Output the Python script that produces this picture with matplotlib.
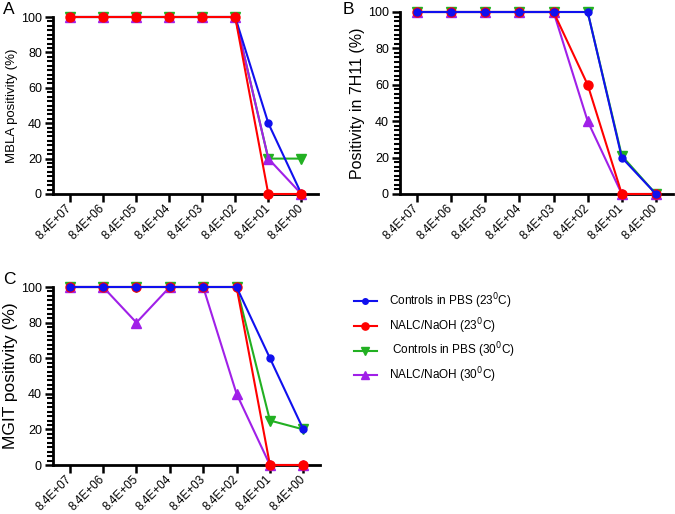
import matplotlib
matplotlib.use("Agg")
import matplotlib.pyplot as plt
from matplotlib.ticker import MultipleLocator
from matplotlib.lines import Line2D
import matplotlib.transforms as mtransforms

plt.rcParams['font.family'] = ['Liberation Sans', 'DejaVu Sans']

categories = ["8.4E+07", "8.4E+06", "8.4E+05", "8.4E+04", "8.4E+03", "8.4E+02", "8.4E+01", "8.4E+00"]

series_names = ["Controls in PBS (23$^{0}$C)", "NALC/NaOH (23$^{0}$C)",
                " Controls in PBS (30$^{0}$C)", "NALC/NaOH (30$^{0}$C)"]

# Panel A: MBLA
a_pbs23 = [100, 100, 100, 100, 100, 100, 40, 0]
a_nalc23 = [100, 100, 100, 100, 100, 100, 0, 0]
a_pbs30 = [100, 100, 100, 100, 100, 100, 20, 20]
a_nalc30 = [100, 100, 100, 100, 100, 100, 20, 0]

# Panel B: 7H11
b_pbs23 = [100, 100, 100, 100, 100, 100, 20, 0]
b_nalc23 = [100, 100, 100, 100, 100, 60, 0, 0]
b_pbs30 = [100, 100, 100, 100, 100, 100, 21, 0]
b_nalc30 = [100, 100, 100, 100, 100, 40, 0, 0]

# Panel C: MGIT
c_pbs23 = [100, 100, 100, 100, 100, 100, 60, 20]
c_nalc23 = [100, 100, 100, 100, 100, 100, 0, 0]
c_pbs30 = [100, 100, 100, 100, 100, 100, 25, 20]
c_nalc30 = [100, 100, 80, 100, 100, 40, 0, 0]

colors = {"pbs23": "#1010ee", "nalc23": "#ff0000", "pbs30": "#22b022", "nalc30": "#a020e8"}
styles = {"pbs23": dict(marker='o', ms=5), "nalc23": dict(marker='o', ms=6.5),
          "pbs30": dict(marker='v', ms=7), "nalc30": dict(marker='^', ms=6.5)}

fig = plt.figure(figsize=(6.75, 5.14), dpi=100)
W, H = 675, 514

def make_ax(l, r, t, b):
    return fig.add_axes([l / W, 1 - b / H, (r - l) / W, (b - t) / H])

axA = make_ax(53, 318, 17, 194)
axB = make_ax(400, 673, 12, 194)
axC = make_ax(53, 320, 287, 465)

def draw(ax, data, order, ylabel, ysize, letter, lx, ly):
    x = list(range(len(categories)))
    for key in order:
        ax.plot(x, data[key], color=colors[key], lw=1.5, clip_on=False,
                mec=colors[key], zorder=3, **styles[key])
    ax.set_xlim(-0.5, len(categories) - 0.5)
    ax.set_ylim(0, 100)
    ax.set_xticks(x)
    ax.set_xticklabels(categories, rotation=45, ha='right', va='center',
                       rotation_mode='anchor', fontsize=8.5)
    offset = mtransforms.ScaledTranslation(3 / 100, -4 / 100, fig.dpi_scale_trans)
    for lab in ax.get_xticklabels():
        lab.set_transform(lab.get_transform() + offset)
    ax.yaxis.set_major_locator(MultipleLocator(20))
    ax.yaxis.set_minor_locator(MultipleLocator(2.5))
    ax.tick_params(axis='y', which='major', length=6, width=1.8, labelsize=9, pad=2)
    ax.tick_params(axis='y', which='minor', length=4, width=1.5)
    ax.tick_params(axis='x', which='major', length=6, width=1.8, pad=3)
    ax.spines['top'].set_visible(False)
    ax.spines['right'].set_visible(False)
    ax.spines['left'].set_linewidth(2)
    ax.spines['bottom'].set_linewidth(2)
    ax.set_ylabel(ylabel, fontsize=ysize, labelpad=2)
    fig.text(lx / W, 1 - ly / H, letter, fontsize=12.5, ha='center', va='center')

draw(axA, {"pbs23": a_pbs23, "nalc23": a_nalc23, "pbs30": a_pbs30, "nalc30": a_nalc30},
     ["pbs30", "nalc30", "pbs23", "nalc23"], "MBLA positivity (%)", 9.5, "A", 9, 10)
draw(axB, {"pbs23": b_pbs23, "nalc23": b_nalc23, "pbs30": b_pbs30, "nalc30": b_nalc30},
     ["pbs30", "nalc30", "nalc23", "pbs23"], "Positivity in 7H11 (%)", 11.5, "B", 348, 10)
draw(axC, {"pbs23": c_pbs23, "nalc23": c_nalc23, "pbs30": c_pbs30, "nalc30": c_nalc30},
     ["pbs30", "nalc30", "nalc23", "pbs23"], "MGIT positivity (%)", 12.5, "C", 9, 280)

handles = [Line2D([], [], color=colors[k], lw=1.5, mec=colors[k], **styles[k])
           for k in ["pbs23", "nalc23", "pbs30", "nalc30"]]
fig.legend(handles, series_names, loc='upper left', bbox_to_anchor=(343 / W, 1 - 281 / H),
           frameon=False, fontsize=8.5, handlelength=2.0, labelspacing=0.42,
           handletextpad=1.0, markerscale=0.8)

fig.savefig("out.png", dpi=100)
